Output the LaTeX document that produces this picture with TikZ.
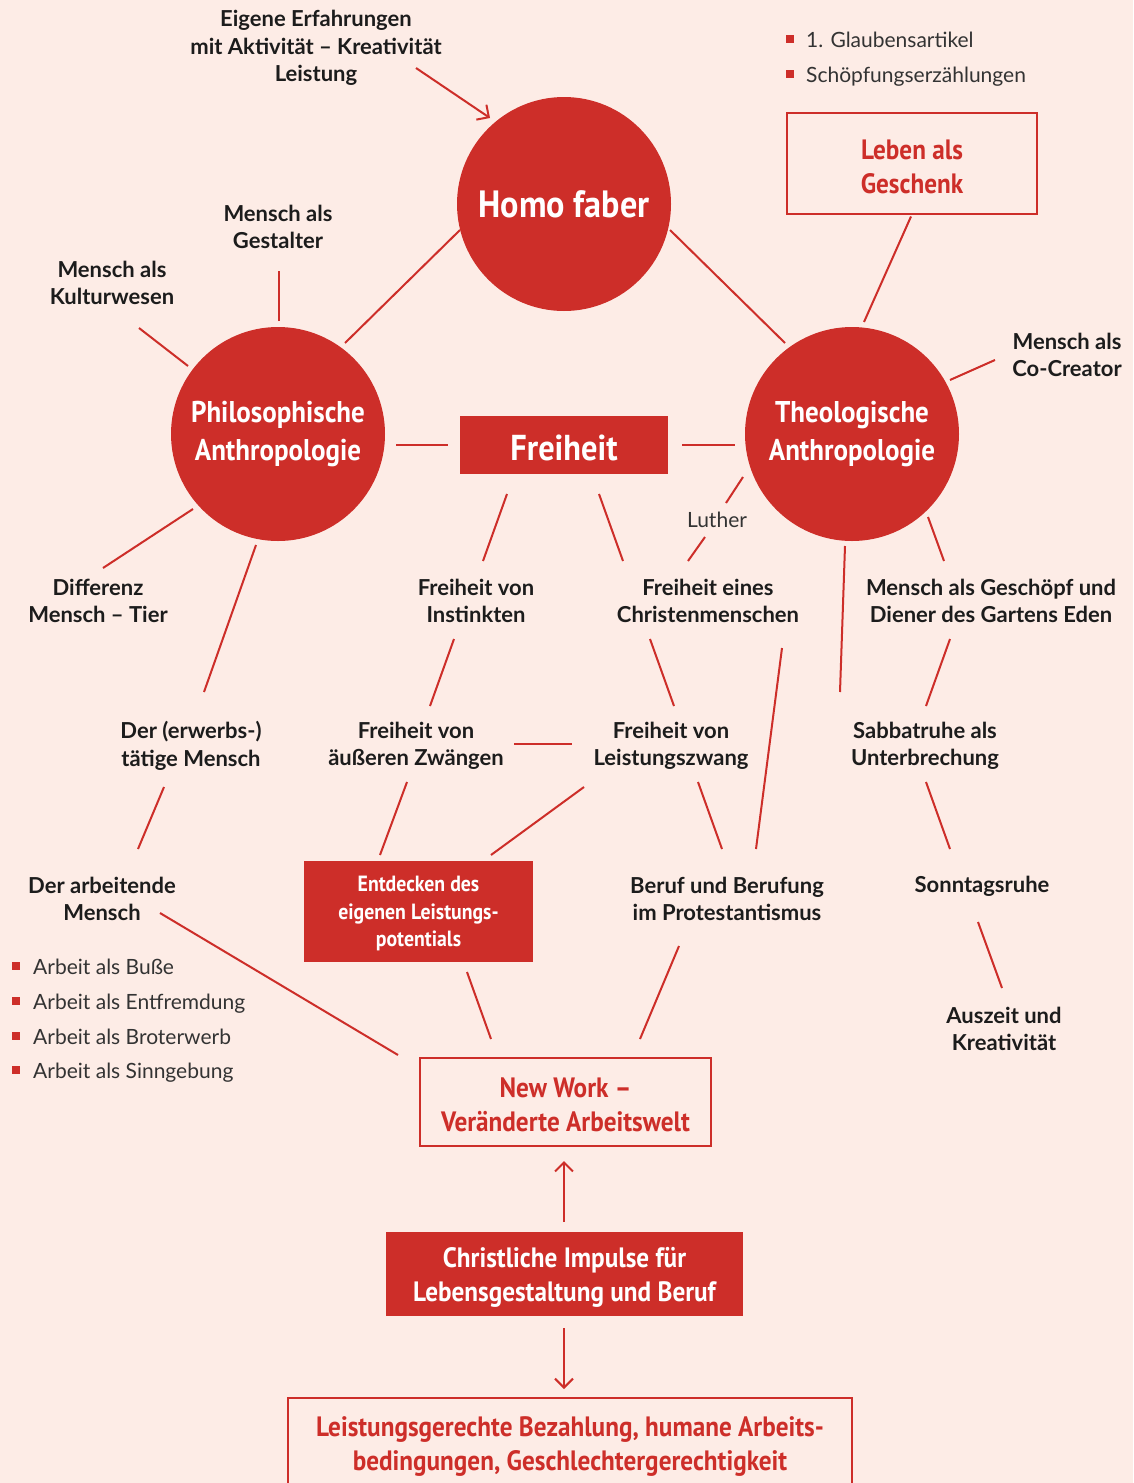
\documentclass[tikz,border=0pt]{standalone}
\usepackage{fontspec}
\usetikzlibrary{arrows.meta}
\newfontfamily\lblfont[BoldFont=* Bold]{Lato}
\newfontfamily\regfont{Lato}
\newfontfamily\condfont[FakeStretch=0.9]{PT Sans}
\definecolor{bg}{HTML}{FDECE6}
\definecolor{rd}{HTML}{CD2E29}
\definecolor{tx}{HTML}{1C1C1C}
\definecolor{gy}{HTML}{333333}
\tikzset{
  lbl/.style={font=\lblfont\bfseries\fontsize{22}{27.5}\selectfont, text=tx, align=center, inner sep=0pt},
  reg/.style={font=\regfont\fontsize{21}{27}\selectfont, text=gy, inner sep=0pt},
  circ/.style={circle, fill=rd, text=white, minimum size=214pt, inner sep=0pt, align=center},
  circtxt/.style={font=\condfont\bfseries\fontsize{30}{38}\selectfont},
  fbox/.style={fill=rd, inner sep=0pt},
  obox/.style={draw=rd, line width=2pt, inner sep=0pt},
  ftxt/.style={text=white, align=center, inner sep=0pt, yshift=-3pt, font=\condfont\bfseries\fontsize{28}{34}\selectfont},
  otxt/.style={text=rd, align=center, inner sep=0pt, yshift=-3pt, font=\condfont\bfseries\fontsize{28}{34}\selectfont},
  ln/.style={draw=rd, line width=2pt},
  arr/.style={ln, -{Straight Barb[length=9pt,width=18pt,line width=2pt]}},
  sq/.style={fill=rd, minimum size=8pt, inner sep=0pt},
}
\begin{document}
\begin{tikzpicture}[x=1pt,y=-1pt]
\fill[bg] (0,0) rectangle (1133,1483);
\useasboundingbox (0,0) rectangle (1133,1483);
% circles
\node[circ, font=\condfont\bfseries\fontsize{38}{44}\selectfont] (homo) at (564,204) {Homo faber};
\node[circ, circtxt] (phil) at (278,434) {Philosophische\\Anthropologie};
\node[circ, circtxt] (theo) at (852,434) {Theologische\\Anthropologie};
% boxes
\node[fbox, minimum width=208pt, minimum height=58pt,
  label={[ftxt, font=\condfont\bfseries\fontsize{36}{44}\selectfont]center:Freiheit}] (frei) at (564,445) {};
\node[obox, minimum width=250pt, minimum height=101pt,
  label={[otxt]center:{Leben als\\Geschenk}}] (leben) at (912,163.5) {};
\node[fbox, minimum width=229pt, minimum height=101pt,
  label={[ftxt, yshift=1pt, font=\condfont\bfseries\fontsize{22}{27.5}\selectfont]center:{Entdecken des\\eigenen Leistungs-\\potentials}}] (entd) at (418.5,911.5) {};
\node[obox, minimum width=291pt, minimum height=88pt,
  label={[otxt]center:{New Work –\\Veränderte Arbeitswelt}}] (nw) at (565.5,1102) {};
\node[fbox, minimum width=357pt, minimum height=84pt,
  label={[ftxt]center:{Christliche Impulse für\\Lebensgestaltung und Beruf}}] (chr) at (564.5,1274) {};
\node[obox, minimum width=564pt, minimum height=88pt,
  label={[otxt, yshift=-1pt]center:{Leistungsgerechte Bezahlung, humane Arbeits-\\bedingungen, Geschlechtergerechtigkeit}}] (bot) at (570,1442) {};
% labels
\node[lbl] (eig) at (316,48) {Eigene Erfahrungen\\mit Aktivität – Kreativität\\Leistung};
\node[lbl] (gest) at (278,227) {Mensch als\\Gestalter};
\node[lbl] (kult) at (112,283) {Mensch als\\Kulturwesen};
\node[lbl] (cocr) at (1067,355) {Mensch als\\Co-Creator};
\node[reg] (luther) at (717,520) {Luther};
\node[lbl] (diff) at (98,601) {Differenz\\Mensch – Tier};
\node[lbl] (inst) at (476,601) {Freiheit von\\Instinkten};
\node[lbl] (chri) at (708,601) {Freiheit eines\\Christenmenschen};
\node[lbl] (gesch) at (991,601) {Mensch als Geschöpf und\\Diener des Gartens Eden};
\node[lbl] (erw) at (191,746) {Der (erwerbs-)\\tätige Mensch};
\node[lbl] (aeuss) at (416,746) {Freiheit von\\äußeren Zwängen};
\node[lbl] (lzw) at (671,746) {Freiheit von\\Leistungszwang};
\node[lbl] (sabb) at (925,746) {Sabbatruhe als\\Unterbrechung};
\node[lbl] (arbm) at (102,899) {Der arbeitende\\Mensch};
\node[lbl] (beruf) at (727,899) {Beruf und Berufung\\im Protestantismus};
\node[lbl] (sonn) at (982,886) {Sonntagsruhe};
\node[lbl] (ausz) at (1004,1029) {Auszeit und\\Kreativität};
% bullet lists
\node[sq] (s1) at (790,39) {};
\node[reg, anchor=base west] (g1) at (806,47) {1. Glaubensartikel};
\node[sq] (s2) at (790,74) {};
\node[reg, anchor=base west] (g2) at (806,82) {Schöpfungserzählungen};
\node[sq] (a1s) at (16,966) {};
\node[reg, anchor=base west] (a1) at (33,974) {Arbeit als Buße};
\node[sq] (a2s) at (16,1001) {};
\node[reg, anchor=base west] (a2) at (33,1009) {Arbeit als Entfremdung};
\node[sq] (a3s) at (16,1036) {};
\node[reg, anchor=base west] (a3) at (33,1044) {Arbeit als Broterwerb};
\node[sq] (a4s) at (16,1070) {};
\node[reg, anchor=base west] (a4) at (33,1078) {Arbeit als Sinngebung};
% connectors
\draw[arr] ([shift={(100,20)}]eig.center) -- ([shift={(-74,-86)}]homo.center);
\draw[ln] ([shift={(-104,26)}]homo.center) -- ([shift={(67,-91)}]phil.center);
\draw[ln] ([shift={(106,26)}]homo.center) -- ([shift={(-67,-91)}]theo.center);
\draw[ln] ([shift={(-1,53)}]leben.center) -- ([shift={(12,-112)}]theo.center);
\draw[ln] ([shift={(98,-54)}]theo.center) -- ([shift={(-72,5)}]cocr.center);
\draw[ln] ([shift={(-90,-68)}]phil.center) -- ([shift={(27,45)}]kult.center);
\draw[ln] ([shift={(1,-113)}]phil.center) -- ([shift={(1,44)}]gest.center);
\draw[ln] ([shift={(118,11)}]phil.center) -- ([shift={(-116,0)}]frei.center);
\draw[ln] ([shift={(118,0)}]frei.center) -- ([shift={(-117,11)}]theo.center);
\draw[ln] ([shift={(-109,43)}]theo.center) -- ([shift={(9,-17)}]luther.center);
\draw[ln] ([shift={(-12,17)}]luther.center) -- ([shift={(-20,-40)}]chri.center);
\draw[ln] ([shift={(-57,49)}]frei.center) -- ([shift={(7,-40)}]inst.center);
\draw[ln] ([shift={(35,49)}]frei.center) -- ([shift={(-85,-40)}]chri.center);
\draw[ln] ([shift={(-85,75)}]phil.center) -- ([shift={(5,-33)}]diff.center);
\draw[ln] ([shift={(-22,111)}]phil.center) -- ([shift={(13,-54)}]erw.center);
\draw[ln] ([shift={(76,83)}]theo.center) -- ([shift={(-47,-40)}]gesch.center);
\draw[ln] ([shift={(-7,112)}]theo.center) -- ([shift={(-85,-54)}]sabb.center);
\draw[ln] ([shift={(-22,38)}]inst.center) -- ([shift={(14,-40)}]aeuss.center);
\draw[ln] ([shift={(-58,38)}]chri.center) -- ([shift={(3,-40)}]lzw.center);
\draw[ln] ([shift={(-41,38)}]gesch.center) -- ([shift={(1,-40)}]sabb.center);
\draw[ln] ([shift={(74,47)}]chri.center) -- ([shift={(29,-50)}]beruf.center);
\draw[ln] ([shift={(98,-2)}]aeuss.center) -- ([shift={(-99,-2)}]lzw.center);
\draw[ln] ([shift={(-87,41)}]lzw.center) -- ([shift={(72.5,-56.5)}]entd.center);
\draw[ln] ([shift={(-9,36)}]aeuss.center) -- ([shift={(-38.5,-56.5)}]entd.center);
\draw[ln] ([shift={(27,36)}]lzw.center) -- ([shift={(-5,-50)}]beruf.center);
\draw[ln] ([shift={(-27,41)}]erw.center) -- ([shift={(36,-50)}]arbm.center);
\draw[ln] ([shift={(1,36)}]sabb.center) -- ([shift={(-32,-37)}]sonn.center);
\draw[ln] ([shift={(-4,36)}]sonn.center) -- ([shift={(-2,-41)}]ausz.center);
\draw[ln] ([shift={(58,14)}]arbm.center) -- ([shift={(-167.5,-47)}]nw.center);
\draw[ln] ([shift={(48.5,60.5)}]entd.center) -- ([shift={(-74.5,-63)}]nw.center);
\draw[ln] ([shift={(-48,47)}]beruf.center) -- ([shift={(74.5,-63)}]nw.center);
\draw[arr] ([shift={(-0.5,-52)}]chr.center) -- ([shift={(-1.5,59)}]nw.center);
\draw[arr] ([shift={(-0.5,54)}]chr.center) -- ([shift={(-6,-53)}]bot.center);
\end{tikzpicture}
\end{document}
